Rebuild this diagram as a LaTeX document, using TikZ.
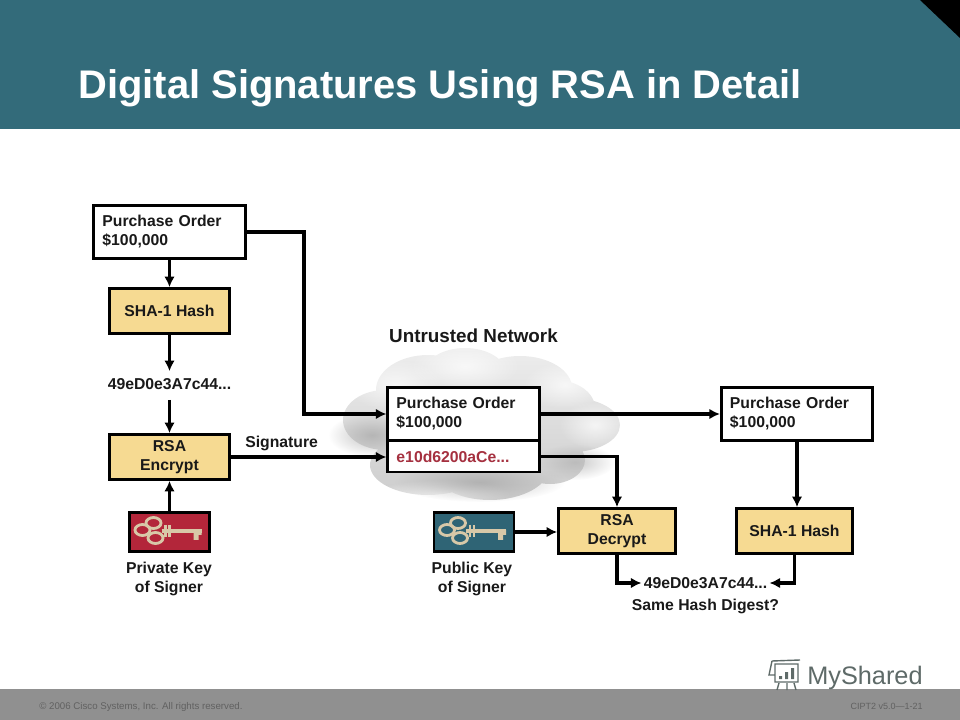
\documentclass[tikz,border=0pt]{standalone}
\usepackage{fontspec}
\setmainfont{Liberation Sans}
\usetikzlibrary{arrows.meta,positioning,calc,fadings}
\definecolor{headteal}{HTML}{336B7A}
\definecolor{footgray}{HTML}{909090}
\definecolor{boxtan}{HTML}{F6DA92}
\definecolor{keyred}{HTML}{B3263A}
\definecolor{keyteal}{HTML}{2F6475}
\definecolor{keytan}{HTML}{D8C8A8}
\definecolor{sigred}{HTML}{A5303F}
\definecolor{wmgray}{HTML}{5E6A68}
\tikzfading[name=softlobe, inner color=transparent!0, outer color=transparent!100]
\tikzset{
    lbl/.style={font=\fontsize{11.2}{13.2}\selectfont\bfseries, inner sep=0pt, align=center, text=black!90},
    docbox/.style={draw=black, line width=2.1pt, fill=white, minimum width=3.78cm, minimum height=1.33cm,
        font=\fontsize{11.2}{13.5}\selectfont\bfseries, align=left, text width=3.35cm, inner sep=0pt, text=black!90},
    hashbox/.style={draw=black, line width=2.1pt, fill=boxtan, minimum width=2.98cm, minimum height=1.12cm,
        font=\fontsize{11.2}{13.5}\selectfont\bfseries, align=center, inner sep=0pt, text=black!90},
    cryptbox/.style={hashbox, execute at begin node=\rule{0pt}{12pt}},
    keybox/.style={draw=black, line width=2.1pt, minimum width=2cm, minimum height=0.97cm, inner sep=0pt},
    conn/.style={line width=2.3pt, -{Latex[length=7.5pt,width=7.5pt]}},
    keyglyph/.pic={
        % three bows, then shaft and bit
        \draw[keytan, line width=2pt] (-27,-2) ellipse (7.5 and 5.5);
        \draw[keytan, line width=2pt] (-16,-9) ellipse (7.5 and 5.5);
        \draw[keytan, line width=2pt] (-14,6) ellipse (7.5 and 5.5);
        \draw[keytan, line width=2.4pt] (-8,-1) -- (32,-1);
        \draw[keytan, line width=1.6pt] (-4,-7) -- (-4,5) (0,-7) -- (0,5);
        \fill[keytan] (24,-2) rectangle (32,3) (24,3) rectangle (29,8);
    }
}
\begin{document}
\begin{tikzpicture}[x=0.025cm,y=-0.025cm]
    \useasboundingbox (0,0) rectangle (960,720);
    % Header and footer bands
    \fill[headteal] (0,0) rectangle (960,129);
    \fill[black] (920,0) -- (960,0) -- (960,38) -- cycle;
    \node[anchor=base west, inner sep=0pt, text=white, font=\fontsize{28.4}{30}\selectfont\bfseries] (title) at (78,99) {Digital Signatures Using RSA in Detail};
    \fill[footgray] (0,689) rectangle (960,720);
    \node[anchor=west, inner sep=0pt, text=black!62, font=\fontsize{6.9}{8}\selectfont] (copyright) at (39,706.5) {© 2006 Cisco Systems, Inc. All rights reserved.};
    \node[anchor=east, inner sep=0pt, text=black!62, font=\fontsize{6.4}{8}\selectfont] (course) at (923,706.5) {CIPT2 v5.0—1-21};
    % Watermark
    \node[anchor=base west, inner sep=0pt, text=wmgray, font=\fontsize{18}{20}\selectfont] (wmtext) at (807,684) {MyShared};
    \begin{scope}[wmgray, line width=1pt]
        \draw (772,661) -- (800,660) (772,661) -- (769,675) -- (774,675) (775,664) -- (775,682) -- (798,682) -- (798,664) -- cycle;
        \fill (779,676) rectangle (782,679) (785,672) rectangle (788,679) (791,668) rectangle (794,679);
        \draw (779,683) -- (777,690) (787,683) -- (787,690) (794,683) -- (796,690);
    \end{scope}
    % Cloud
    \shade[top color=black!7, bottom color=black!20]
        (465,375) ellipse (42 and 27)
        (520,388) ellipse (52 and 32)
        (428,390) ellipse (52 and 35)
        (385,420) ellipse (42 and 30)
        (572,425) ellipse (48 and 27)
        (555,408) ellipse (40 and 28)
        (428,465) ellipse (58 and 30)
        (490,466) ellipse (60 and 34)
        (550,460) ellipse (35 and 24)
        (470,425) ellipse (100 and 40);
    % soft highlights and shadows inside the cloud
    \foreach \cx/\cy/\rx/\ry/\tone in {465/366/55/24/white, 395/385/48/26/white, 565/385/42/24/white,
        595/425/36/24/white, 440/494/70/14/white, 372/435/44/22/black!35, 480/482/85/20/black!35, 575/462/40/18/black!30} {
        \fill[\tone, path fading=softlobe, opacity=0.7] (\cx,\cy) ellipse [x radius=\rx, y radius=\ry];
    }
    % Left column
    \node[docbox] (poa) at (169.5,232) {Purchase Order\\\$100,000};
    \node[hashbox] (hasha) at (169.5,311) {SHA-1 Hash};
    \node[lbl] (digesta) at (169.5,384) {49eD0e3A7c44...};
    \node[cryptbox] (encrypt) at (169.5,457) {RSA\\Encrypt};
    \node[keybox, fill=keyred] (privkey) at (169.5,532) {};
    \pic at (privkey.center) {keyglyph};
    \node[lbl] (privlbl) at (169,579) {Private Key\\of Signer};
    \node[lbl, anchor=west] (siglbl) at (245,443) {Signature};
    % Middle column
    \node[lbl, font=\fontsize{13.4}{15}\selectfont\bfseries] (untrusted) at (473.5,336) {Untrusted Network};
    \node[docbox] (pob) at (463.5,414) {Purchase Order\\\$100,000};
    \node[docbox, minimum height=0.775cm, text=sigred] (sigtxt) at (463.5,456.5) {e10d6200aCe...};
    \node[keybox, fill=keyteal] (pubkey) at (474,532) {};
    \pic at (pubkey.center) {keyglyph};
    \node[lbl] (publbl) at (472,579) {Public Key\\of Signer};
    \node[cryptbox, minimum width=2.92cm] (decrypt) at (617,531) {RSA\\Decrypt};
    % Right column
    \node[docbox] (poc) at (797,414) {Purchase Order\\\$100,000};
    \node[hashbox, minimum width=2.9cm] (hashb) at (794.5,531) {SHA-1 Hash};
    \node[lbl] (digestb) at (705.5,583) {49eD0e3A7c44...};
    \node[lbl] (same) at (705.5,606) {Same Hash Digest?};
    \coordinate (bend) at (304,300);
    % Connectors
    \draw[conn] (poa.south) -- (hasha.north);
    \draw[conn] (hasha.south) -- ($(digesta.north)+(0,-7)$);
    \draw[conn] ($(digesta.south)+(0,10)$) -- (encrypt.north);
    \draw[conn] (privkey.north) -- (encrypt.south);
    \draw[conn] (poa.east) -| (bend) |- (pob.west);
    \draw[conn] (encrypt.east) -- (encrypt.east -| sigtxt.west);
    \draw[conn] (pob.east) -- (poc.west);
    \draw[conn] (sigtxt.east) -| (decrypt.north);
    \draw[conn] (pubkey.east) -- (pubkey.east -| decrypt.west);
    \draw[conn] (poc.south) -- (poc.south |- hashb.north);
    \draw[conn] (decrypt.south) |- ($(digestb.west)+(-2,0)$);
    \draw[conn] (hashb.south) |- ($(digestb.east)+(2,0)$);
\end{tikzpicture}
\end{document}
